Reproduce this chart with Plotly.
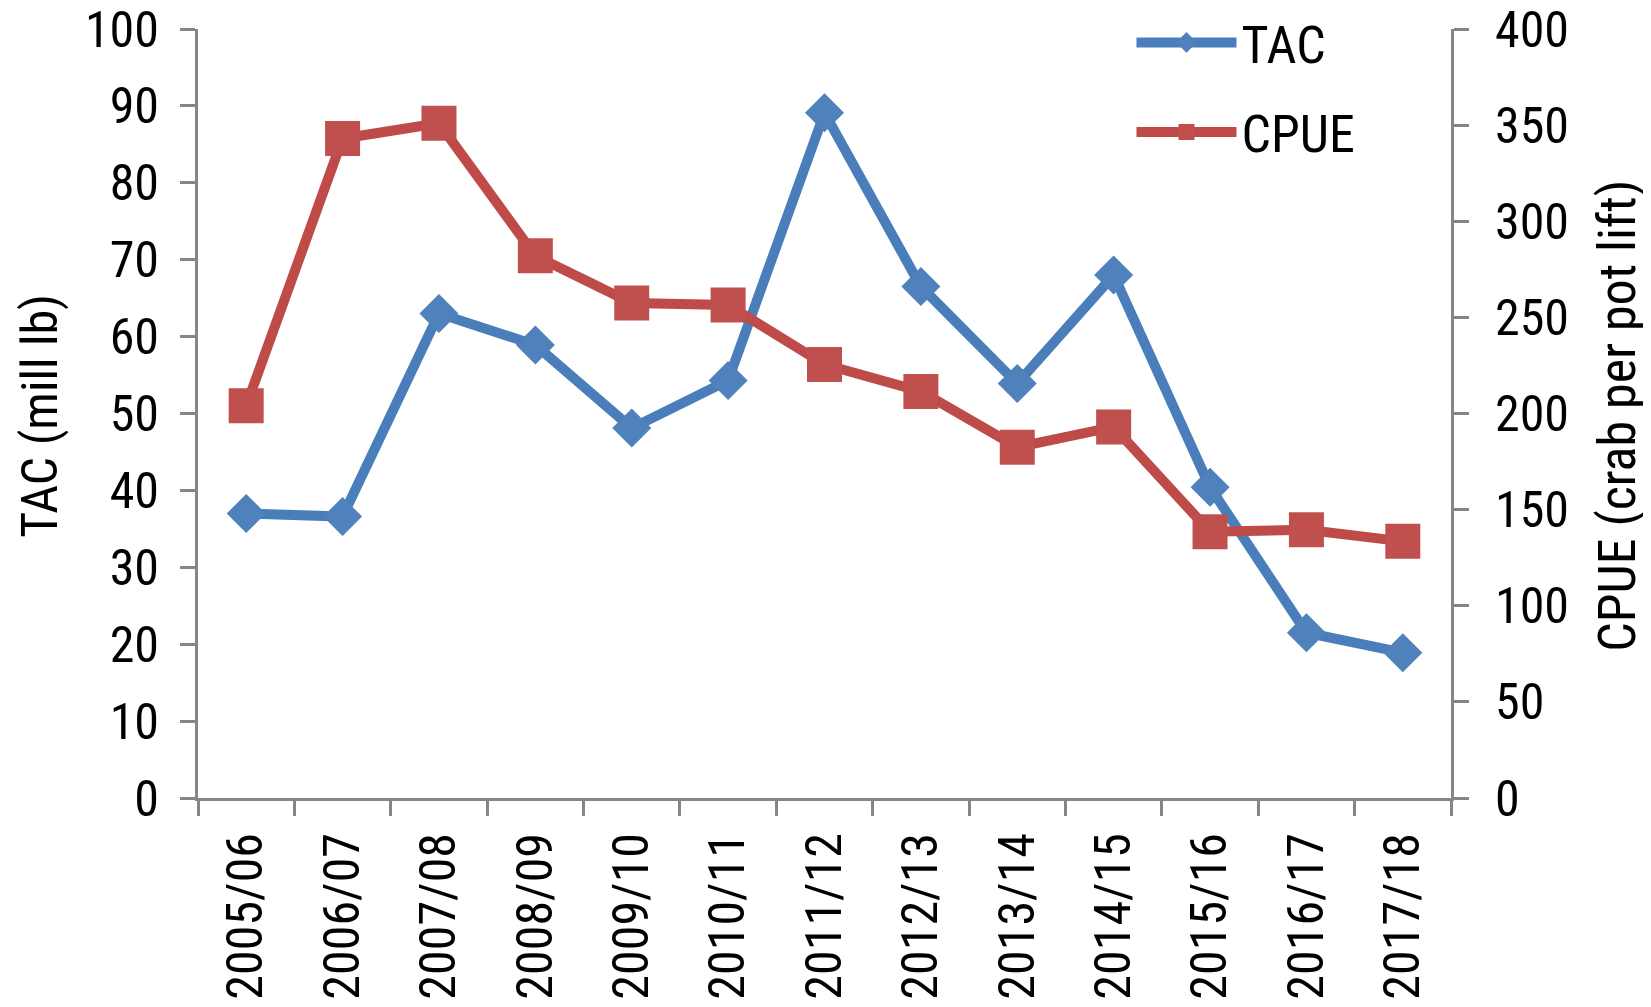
import plotly.graph_objects as go

seasons = ["2005/06", "2006/07", "2007/08", "2008/09", "2009/10", "2010/11", "2011/12",
           "2012/13", "2013/14", "2014/15", "2015/16", "2016/17", "2017/18"]
tac = [37.0, 36.6, 63.0, 58.9, 48.1, 54.3, 89.1, 66.5, 53.9, 68.0, 40.4, 21.5, 18.9]
cpue = [204, 343, 351, 282, 257.5, 256.5, 225.5, 211.5, 182.5, 193, 138.5, 139.5, 133.5]

FONT = "Liberation Sans Narrow, Arial Narrow, Roboto Condensed, Liberation Sans, sans-serif"
AX = "#868686"
BLUE_L, BLUE_M = "#4A7EBB", "#4F81BD"
RED_L, RED_M = "#BE4B48", "#C0504D"

fig = go.Figure()
fig.add_trace(go.Scatter(x=seasons, y=tac, name="TAC", mode="lines+markers",
                         line=dict(color=BLUE_L, width=10),
                         marker=dict(symbol="diamond", size=30, color=BLUE_M),
                         legendgroup="a", yaxis="y"))
fig.add_trace(go.Scatter(x=seasons, y=cpue, name="CPUE", mode="lines+markers",
                         line=dict(color=RED_L, width=10),
                         marker=dict(symbol="square", size=35, color=RED_M),
                         legendgroup="b", yaxis="y2"))

axis_common = dict(showline=True, linecolor=AX, linewidth=3, ticks="outside",
                   tickcolor=AX, tickwidth=3, ticklen=15, showgrid=False, zeroline=False,
                   automargin=False, ticklabeloverflow="allow")

fig.update_layout(
    width=1643, height=999,
    margin=dict(l=190, r=200, t=21, b=209, autoexpand=False),
    paper_bgcolor="white", plot_bgcolor="white",
    font=dict(family=FONT, size=48, color="black"),
    xaxis=dict(**axis_common, type="category", tickson="boundaries", tickangle=-90,
               range=[-0.5, 12.5], ticklabelstandoff=12,
               tickfont=dict(family=FONT, size=50, color="black")),
    yaxis=dict(**axis_common, range=[0, 100], dtick=10, ticklabelstandoff=11,
               tickfont=dict(family=FONT, size=50, color="black")),
    yaxis2=dict(**axis_common, range=[0, 400], dtick=50, overlaying="y", side="right",
                ticklabelstandoff=16,
                tickfont=dict(family=FONT, size=50, color="black")),
    legend=dict(x=0.745, y=1.035, xanchor="left", yanchor="top", bgcolor="rgba(0,0,0,0)",
                font=dict(family=FONT, size=52), itemwidth=100, tracegroupgap=19),
    showlegend=True,
    annotations=[
        dict(text="TAC (mill lb)", xref="paper", yref="paper", x=-0.1261, y=0.497,
             xanchor="center", yanchor="middle", textangle=-90, showarrow=False,
             font=dict(family=FONT, size=50, color="black")),
        dict(text="CPUE (crab per pot lift)", xref="paper", yref="paper", x=1.1333, y=0.497,
             xanchor="center", yanchor="middle", textangle=-90, showarrow=False,
             font=dict(family=FONT, size=52, color="black")),
    ],
)

fig.write_html("out.html")
